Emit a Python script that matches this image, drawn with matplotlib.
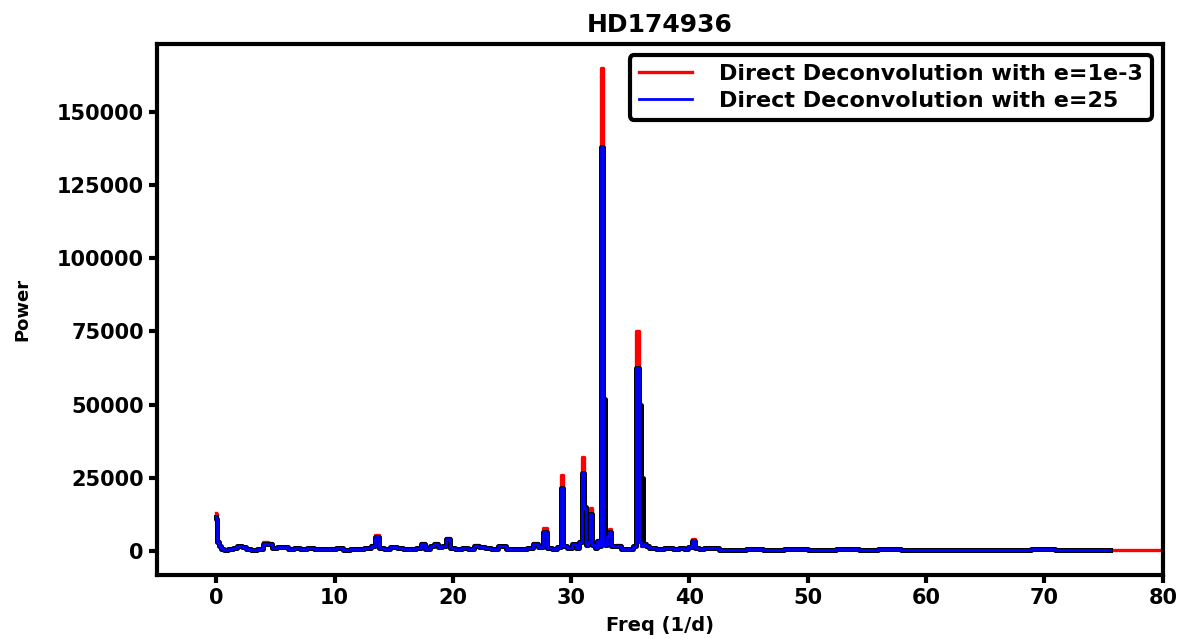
import matplotlib
matplotlib.use("Agg")
import matplotlib.pyplot as plt

plt.rcParams['font.family'] = ['DejaVu Sans']
plt.rcParams['font.weight'] = 'bold'

title = "HD174936"
xlabel = "Freq (1/d)"
ylabel = "Power"
label_red = "Direct Deconvolution with e=1e-3"
label_blue = "Direct Deconvolution with e=25"

freq = [0.0, 0.05, 0.15, 0.3, 0.5, 0.8, 1.2, 1.6, 2.0, 2.3, 2.7, 3.2, 3.7, 4.2, 4.5, 4.9,
        5.4, 5.8, 6.3, 6.8, 7.4, 8.0, 8.6, 9.2, 9.8, 10.4, 11.0, 11.6, 12.2, 12.8, 13.3,
        13.6, 13.9, 14.4, 15.0, 15.5, 16.0, 16.6, 17.2, 17.5, 17.8, 18.3, 18.6, 18.9, 19.3,
        19.6, 19.9, 20.5, 21.0, 21.5, 22.0, 22.5, 23.0, 23.5, 24.2, 24.8, 25.4, 26.0, 26.6,
        27.0, 27.4, 27.8, 28.1, 28.6, 29.0, 29.2, 29.45, 29.8, 30.3, 30.6, 30.8, 31.0, 31.2,
        31.35, 31.5, 31.7, 31.9, 32.1, 32.3, 32.45, 32.6, 32.75, 32.9, 33.1, 33.3, 33.5,
        34.0, 34.5, 35.0, 35.4, 35.6, 35.8, 36.0, 36.2, 36.4, 36.8, 37.5, 38.2, 39.0, 39.3,
        39.7, 40.1, 40.3, 40.6, 41.0, 41.5, 42.0, 43.0, 44.0, 45.5, 47.0, 49.0, 51.0, 53.7,
        55.0, 56.8, 59.0, 62.0, 65.0, 68.0, 69.8, 72.0, 75.5]

blue = [11500, 11000, 3000, 1500, 600, 400, 500, 900, 1500, 1200, 500, 400, 600, 2500, 2400, 900,
        1200, 1300, 700, 900, 600, 800, 500, 700, 600, 800, 400, 600, 500, 900, 1800,
        4800, 900, 700, 1200, 900, 600, 700, 1000, 2400, 600, 1500, 2500, 1200, 1500,
        4000, 800, 600, 900, 700, 1800, 1200, 900, 500, 1500, 600, 700, 500, 1000,
        2500, 1200, 6500, 800, 600, 1200, 21500, 1500, 800, 2200, 1000, 3000, 26500, 14500,
        2000, 3000, 12500, 2000, 1000, 3500, 1500, 138000, 2000, 2000, 5000, 6500, 1500,
        1800, 600, 500, 1500, 62500, 3000, 1500, 2500, 1500, 800, 700, 1000, 700, 1000,
        600, 1200, 3500, 800, 600, 1000, 900, 300, 300, 700, 200, 500, 200, 700,
        200, 700, 200, 200, 200, 200, 700, 200, 200]

black = [11500, 11000, 3000, 1500, 600, 400, 500, 900, 1500, 1200, 500, 400, 600, 2500, 2400, 900,
         1200, 1300, 700, 900, 600, 800, 500, 700, 600, 800, 400, 600, 500, 900, 1800,
         4800, 900, 700, 1200, 900, 600, 700, 1000, 2400, 600, 1500, 2500, 1200, 1500,
         4000, 800, 600, 900, 700, 1800, 1200, 900, 500, 1500, 600, 700, 500, 1000,
         2500, 1200, 6500, 800, 600, 1200, 21500, 1500, 800, 2200, 1000, 3000, 26500, 15000,
         2000, 3000, 12500, 2000, 1000, 3500, 1500, 138000, 52000, 2000, 5000, 6500, 1500,
         1800, 600, 500, 1500, 62500, 50000, 25000, 2500, 1500, 800, 700, 1000, 700, 1000,
         600, 1200, 3500, 800, 600, 1000, 900, 300, 300, 700, 200, 500, 200, 700,
         200, 700, 200, 200, 200, 200, 700, 200, 200]

red_freq = freq + [77.0, 80.0]
red = [13000, 12500, 3300, 1700, 700, 450, 550, 1000, 1700, 1300, 550, 450, 650, 3000, 2800, 1000,
       1300, 1400, 750, 1000, 650, 850, 550, 750, 650, 850, 450, 650, 550, 1000, 2000,
       5500, 1000, 750, 1300, 1000, 650, 750, 1100, 2800, 650, 1600, 2800, 1300, 1600,
       4500, 850, 650, 1000, 750, 2100, 1300, 1000, 550, 1700, 650, 750, 550, 1100,
       2700, 1300, 7800, 850, 650, 1300, 26000, 1600, 850, 2500, 1100, 3300, 32000, 15000,
       2200, 3300, 14500, 2200, 1100, 3800, 1600, 165000, 2200, 2200, 5500, 7500, 1600,
       2000, 650, 550, 1600, 75000, 3300, 1600, 2800, 1600, 850, 750, 1100, 750, 1100,
       650, 1300, 4000, 850, 650, 1100, 1000, 320, 320, 750, 200, 550, 200, 750,
       200, 750, 200, 200, 200, 200, 750, 200, 200, 200, 200]

fig = plt.figure(figsize=(11.86, 6.39), dpi=100)
ax = fig.add_axes([0.1324, 0.1002, 0.848, 0.8309])

ax.plot(red_freq, red, color='red', lw=2.4, zorder=1, label=label_red, drawstyle='steps-mid')
ax.plot(freq, black, color='black', lw=3.6, zorder=2, drawstyle='steps-mid')
ax.plot(freq, blue, color='blue', lw=2.0, zorder=3, label=label_blue, drawstyle='steps-mid')

ax.set_xlim(-5, 80)
ax.set_ylim(-8250, 173250)
ax.set_xticks([0, 10, 20, 30, 40, 50, 60, 70, 80])
ax.set_yticks([0, 25000, 50000, 75000, 100000, 125000, 150000])

for s in ax.spines.values():
    s.set_linewidth(3)
ax.tick_params(axis='both', width=3, length=6, labelsize=15)
for lab in ax.get_xticklabels() + ax.get_yticklabels():
    lab.set_fontweight('bold')

ax.set_title(title, fontsize=18, fontweight='bold', pad=9)
ax.set_xlabel(xlabel, fontsize=14, fontweight='bold', labelpad=6)
ax.set_ylabel(ylabel, fontsize=13, fontweight='bold', labelpad=18)

leg = ax.legend(loc='upper right', prop={'size': 16, 'weight': 'bold'},
                fancybox=True, framealpha=1, handlelength=2.4, handletextpad=1.2,
                borderaxespad=0.5, borderpad=0.4, labelspacing=0.3)
leg.get_frame().set_edgecolor('black')
leg.get_frame().set_linewidth(3)

fig.savefig("out.png", dpi=100)
